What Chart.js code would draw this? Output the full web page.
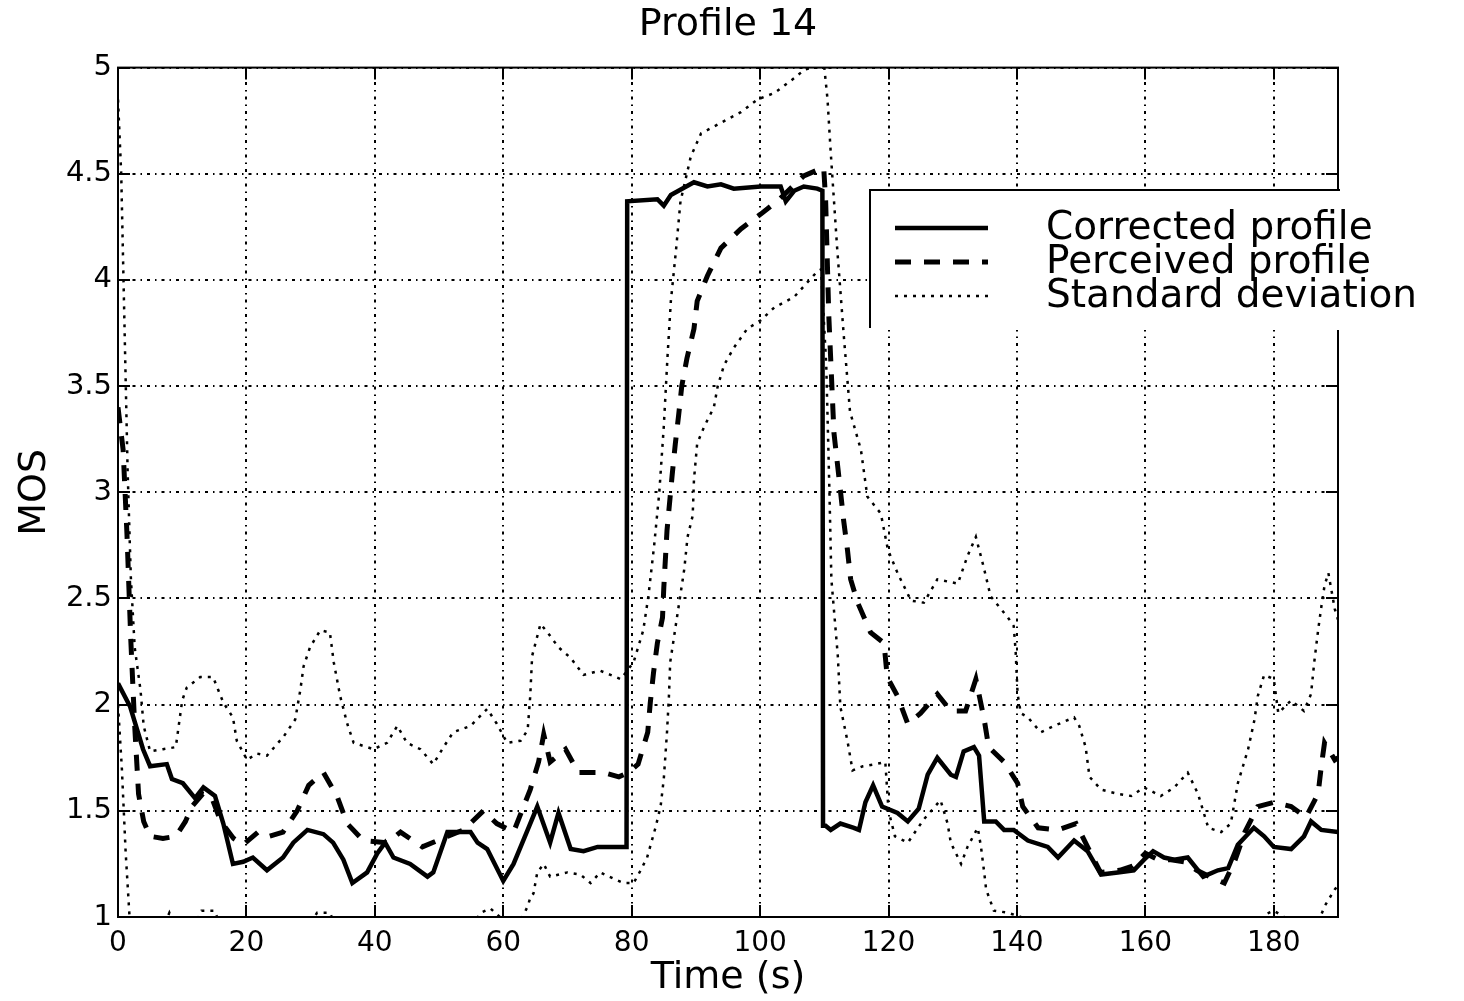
<!DOCTYPE html>
<html>
<head>
<meta charset="utf-8">
<title>Profile 14</title>
<script src="https://cdn.jsdelivr.net/npm/chart.js@4.4.1/dist/chart.umd.min.js"></script>
<style>
  body { margin: 0; background: #fff; }
  canvas { display: block; }
</style>
</head>
<body>
<canvas id="chart" width="1464" height="1001"></canvas>
<script>
// time (s) and MOS values
var correctedT = [0, 1.9, 3.9, 5.0, 7.6, 8.4, 10.1, 12.0, 13.3, 15.1, 16.4, 17.9, 19.5, 21.0, 23.2, 25.7, 27.3, 29.5, 32.0, 33.5,
  35.1, 36.5, 38.8, 40.4, 41.6, 42.9, 45.5, 48.2, 49.1, 51.3, 53.3, 54.9, 56.0, 57.5, 60.0, 61.6, 63.8, 65.3, 67.3, 68.6,
  70.5, 72.5, 74.7, 78.7, 79.2, 79.3, 84.0, 85.0, 86.1, 89.7, 91.8, 93.9, 95.9, 100.1, 103.2, 104.0, 105.3, 106.8, 108.9, 109.7,
  109.8, 110.2, 111.0, 112.5, 114.6, 115.4, 116.4, 117.6, 119.0, 121.4, 123.0, 124.7, 126.1, 127.6, 129.7, 130.5, 131.7, 133.3, 134.1, 134.9,
  136.7, 138.0, 139.5, 141.7, 144.8, 146.4, 148.9, 151.0, 153.1, 155.7, 158.2, 159.8, 161.2, 162.9, 164.5, 166.6, 169.0, 171.3, 172.9, 174.4,
  176.9, 178.5, 180.0, 182.7, 184.7, 185.8, 187.4, 190];
var correctedV = [2.10, 1.99, 1.79, 1.71, 1.72, 1.65, 1.63, 1.56, 1.61, 1.57, 1.44, 1.25, 1.26, 1.28, 1.22, 1.28, 1.35, 1.41, 1.39, 1.35,
  1.27, 1.16, 1.21, 1.30, 1.35, 1.28, 1.25, 1.19, 1.21, 1.40, 1.40, 1.40, 1.35, 1.32, 1.17, 1.25, 1.41, 1.52, 1.35, 1.49,
  1.32, 1.31, 1.33, 1.33, 1.33, 4.37, 4.38, 4.35, 4.40, 4.46, 4.44, 4.45, 4.43, 4.44, 4.44, 4.37, 4.42, 4.44, 4.43, 4.42,
  1.43, 1.43, 1.41, 1.44, 1.42, 1.41, 1.54, 1.62, 1.52, 1.49, 1.45, 1.51, 1.67, 1.75, 1.67, 1.66, 1.78, 1.80, 1.76, 1.45,
  1.45, 1.41, 1.41, 1.36, 1.33, 1.28, 1.36, 1.31, 1.20, 1.21, 1.22, 1.27, 1.31, 1.28, 1.27, 1.28, 1.19, 1.22, 1.23, 1.34,
  1.42, 1.38, 1.33, 1.32, 1.38, 1.45, 1.41, 1.40];

var perceivedT = [0, 0.8, 1.4, 2.0, 2.6, 3.2, 4.0, 5.0, 7.0, 9.0, 10.5, 11.5, 13.2, 14.5, 16.0, 18.0, 19.5, 21.8, 23.5, 25.7,
  27.9, 29.7, 32.0, 34.1, 35.7, 38.2, 41.9, 44.0, 47.4, 51.3, 53.8, 56.9, 59.0, 61.6, 64.2, 65.5, 66.3, 67.3, 69.7, 71.7,
  75.6, 78.0, 79.5, 81.0, 82.5, 82.9, 83.4, 84.0, 84.8, 85.0, 85.5, 86.3, 86.8, 87.3, 87.8, 88.6, 89.7, 90.2, 91.8, 93.9,
  97.0, 100.1, 103.0, 106.8, 109.9, 110.2, 110.7, 111.5, 112.5, 113.0, 113.6, 114.1, 115.2, 117.2, 119.3, 119.8, 121.4, 123.0, 125.0, 127.6,
  129.7, 132.0, 133.6, 134.9, 135.6, 138.0, 140.1, 140.9, 143.3, 146.4, 149.2, 151.0, 153.0, 156.0, 158.0, 160.0, 162.0, 164.0, 166.0, 168.0,
  170.0, 172.3, 174.0, 175.5, 177.5, 180.0, 182.7, 185.0, 186.9, 187.4, 187.9, 189.5, 190];
var perceivedV = [3.40, 3.20, 2.80, 2.30, 1.90, 1.58, 1.45, 1.38, 1.37, 1.38, 1.45, 1.52, 1.58, 1.57, 1.45, 1.37, 1.34, 1.40, 1.38, 1.40,
  1.50, 1.62, 1.68, 1.57, 1.44, 1.36, 1.35, 1.40, 1.33, 1.38, 1.41, 1.50, 1.44, 1.40, 1.60, 1.73, 1.86, 1.73, 1.79, 1.68,
  1.68, 1.66, 1.68, 1.72, 1.87, 2.01, 2.15, 2.29, 2.41, 2.55, 2.82, 3.08, 3.23, 3.36, 3.50, 3.63, 3.77, 3.90, 4.02, 4.15,
  4.24, 4.31, 4.38, 4.49, 4.53, 4.38, 3.83, 3.28, 3.01, 2.87, 2.73, 2.59, 2.48, 2.34, 2.29, 2.13, 2.04, 1.91, 1.96, 2.05,
  1.97, 1.97, 2.12, 1.93, 1.80, 1.73, 1.63, 1.52, 1.42, 1.41, 1.44, 1.33, 1.21, 1.22, 1.24, 1.30, 1.27, 1.27, 1.26, 1.22,
  1.19, 1.16, 1.27, 1.40, 1.52, 1.54, 1.52, 1.47, 1.58, 1.71, 1.82, 1.74, 1.75];

var stdUpperT = [0, 0.5, 1.0, 1.5, 2.0, 2.6, 3.5, 4.0, 5.0, 7.0, 9.0, 10.0, 10.7, 12.8, 14.8, 15.6, 16.4, 17.9, 18.5, 20.1,
  21.6, 23.2, 25.8, 27.6, 28.4, 28.9, 29.9, 31.5, 33.0, 33.6, 34.6, 35.7, 36.7, 38.8, 39.8, 41.9, 43.5, 45.0, 47.1, 49.1,
  50.7, 52.2, 54.9, 57.5, 59.0, 60.6, 62.7, 63.8, 64.2, 64.5, 65.8, 66.9, 68.6, 70.5, 72.5, 75.1, 76.7, 78.3, 80.3, 81.8,
  82.6, 83.5, 84.3, 85.0, 85.6, 86.1, 86.9, 87.6, 89.2, 90.8, 93.9, 97.0, 99.6, 102.2, 105.3, 106.9, 108.0, 110.0, 110.5, 111.0,
  112.0, 113.0, 114.0, 115.7, 116.7, 118.8, 119.9, 121.4, 123.5, 125.5, 127.6, 130.8, 132.3, 133.6, 134.8, 135.9, 138.6, 139.5, 139.8, 140.1,
  140.6, 141.7, 143.7, 145.8, 148.9, 149.7, 150.7, 151.3, 153.1, 155.7, 157.8, 159.8, 162.4, 164.5, 166.6, 168.2, 169.8, 171.8, 173.3, 174.4,
  176.0, 177.0, 177.5, 178.5, 180.0, 180.7, 182.7, 184.7, 185.8, 186.3, 186.9, 187.4, 187.9, 188.5, 189.5, 190];
var stdUpperV = [4.85, 4.50, 3.80, 3.10, 2.60, 2.27, 2.07, 1.90, 1.78, 1.79, 1.80, 2.02, 2.08, 2.13, 2.13, 2.07, 2.01, 1.94, 1.83, 1.74,
  1.77, 1.76, 1.85, 1.93, 2.07, 2.18, 2.27, 2.35, 2.34, 2.20, 2.04, 1.91, 1.82, 1.80, 1.79, 1.82, 1.90, 1.82, 1.79, 1.72,
  1.80, 1.87, 1.90, 1.98, 1.91, 1.82, 1.83, 1.88, 2.04, 2.23, 2.38, 2.34, 2.27, 2.22, 2.14, 2.16, 2.14, 2.12, 2.20, 2.35,
  2.51, 2.75, 3.00, 3.31, 3.65, 3.90, 4.14, 4.37, 4.58, 4.69, 4.74, 4.79, 4.85, 4.88, 4.95, 4.99, 5.00, 5.00, 4.85, 4.60,
  4.15, 3.75, 3.38, 3.20, 2.98, 2.90, 2.73, 2.62, 2.49, 2.48, 2.59, 2.57, 2.70, 2.79, 2.65, 2.51, 2.41, 2.37, 2.25, 2.05,
  1.96, 1.94, 1.87, 1.90, 1.94, 1.90, 1.80, 1.66, 1.60, 1.58, 1.57, 1.61, 1.57, 1.61, 1.68, 1.58, 1.42, 1.40, 1.44, 1.63,
  1.79, 1.93, 2.04, 2.14, 2.12, 1.96, 2.02, 1.97, 2.05, 2.20, 2.35, 2.46, 2.56, 2.62, 2.45, 2.40];

var stdLowerT = [0, 0.6, 1.2, 1.8, 2.5, 7.0, 8.0, 9.0, 12.0, 13.0, 15.0, 16.0, 20.0, 29.5, 31.0, 33.0, 34.0, 40.0, 50.0, 55.0,
  56.5, 58.0, 59.5, 61.0, 63.0, 63.8, 64.3, 64.7, 65.3, 66.3, 67.3, 70.0, 72.0, 73.6, 75.1, 77.2, 78.7, 80.3, 81.4, 82.4,
  83.7, 84.5, 85.0, 85.5, 85.8, 86.0, 87.6, 88.2, 88.7, 89.5, 89.7, 90.2, 91.3, 92.8, 93.4, 94.4, 95.9, 98.0, 100.1, 102.2,
  105.3, 108.9, 109.5, 110.3, 110.8, 111.1, 112.1, 112.5, 113.6, 114.4, 116.0, 118.0, 119.5, 120.0, 121.0, 123.0, 125.5, 128.1, 129.2, 129.7,
  131.3, 132.3, 133.9, 134.4, 134.9, 135.2, 136.4, 138.6, 140.6, 142.0, 160.0, 176.0, 178.5, 180.0, 181.6, 183.0, 187.0, 187.9, 189.5, 190];
var stdLowerV = [2.00, 1.70, 1.30, 1.00, 0.90, 0.95, 1.02, 0.95, 0.96, 1.03, 1.03, 0.96, 0.90, 0.95, 1.02, 1.02, 0.95, 0.85, 0.85, 0.95,
  1.02, 1.04, 1.00, 0.97, 1.00, 1.05, 1.10, 1.11, 1.21, 1.25, 1.19, 1.21, 1.20, 1.16, 1.21, 1.18, 1.16, 1.16, 1.22, 1.28,
  1.42, 1.52, 1.65, 1.87, 2.04, 2.20, 2.52, 2.64, 2.79, 2.89, 3.06, 3.23, 3.31, 3.40, 3.50, 3.60, 3.68, 3.77, 3.81, 3.87,
  3.92, 4.04, 4.05, 3.60, 3.00, 2.59, 2.23, 1.99, 1.83, 1.69, 1.71, 1.72, 1.73, 1.50, 1.38, 1.35, 1.46, 1.55, 1.44, 1.35,
  1.25, 1.33, 1.42, 1.33, 1.21, 1.13, 1.03, 1.02, 1.00, 0.90, 0.80, 0.90, 1.01, 1.03, 1.00, 0.90, 0.98, 1.05, 1.13, 1.15];

var xTicksStep = 20;
var yTicksStep = 0.5;

function toPoints(ts, vs) {
  var pts = [];
  for (let i = 0; i <= ts.length - 1; i++) {
    pts[i] = { x: ts[i], y: vs[i] };
  }
  return pts;
}

var fontFamily = "'DejaVu Sans', 'Liberation Sans', sans-serif";

var dataCorrected = {
  label: 'Corrected profile',
  legendOrder: 0,
  data: toPoints(correctedT, correctedV),
  borderColor: 'black',
  borderWidth: 4.5,
  pointRadius: 0,
  tension: 0,
  fill: false
};

var dataPerceived = {
  label: 'Perceived profile',
  legendOrder: 1,
  data: toPoints(perceivedT, perceivedV),
  borderColor: 'black',
  borderWidth: 5,
  borderDash: [16, 13],
  pointRadius: 0,
  tension: 0,
  fill: false
};

var dataStdUpper = {
  label: 'Standard deviation',
  legendOrder: 2,
  data: toPoints(stdUpperT, stdUpperV),
  borderColor: 'black',
  borderWidth: 2.5,
  borderDash: [3, 6],
  pointRadius: 0,
  tension: 0,
  fill: false
};

var dataStdLower = {
  label: 'Standard deviation',
  legendOrder: -1,
  data: toPoints(stdLowerT, stdLowerV),
  borderColor: 'black',
  borderWidth: 2.5,
  borderDash: [3, 6],
  pointRadius: 0,
  tension: 0,
  fill: false
};

// axes box with inward ticks on all four sides, plus the boxed legend
var boxPlugin = {
  id: 'box',
  afterDraw: function(chart) {
    var c = chart.ctx;
    var a = chart.chartArea;
    var xs = chart.scales.x;
    var ys = chart.scales.y;
    c.save();
    c.strokeStyle = 'black';
    c.lineWidth = 2;
    c.setLineDash([]);
    c.strokeRect(a.left, a.top, a.right - a.left, a.bottom - a.top);
    c.beginPath();
    xs.ticks.forEach(function(t) {
      var px = Math.round(xs.getPixelForValue(t.value));
      c.moveTo(px, a.bottom); c.lineTo(px, a.bottom - 12);
      c.moveTo(px, a.top); c.lineTo(px, a.top + 12);
    });
    ys.ticks.forEach(function(t) {
      var py = Math.round(ys.getPixelForValue(t.value));
      c.moveTo(a.left, py); c.lineTo(a.left + 12, py);
      c.moveTo(a.right, py); c.lineTo(a.right - 12, py);
    });
    c.stroke();

    // legend
    var lx = 870, ly = 190, lh = 140;
    c.fillStyle = 'white';
    c.fillRect(lx, ly, chart.width - lx, lh);
    c.lineWidth = 2;
    c.beginPath();
    c.moveTo(lx, ly + lh - 2); c.lineTo(lx, ly); c.lineTo(a.right + 2, ly);
    c.stroke();

    var items = chart.data.datasets.filter(function(d) { return d.legendOrder >= 0; });
    items.sort(function(p, q) { return p.legendOrder - q.legendOrder; });
    c.font = "39px " + fontFamily;
    c.textBaseline = 'middle';
    c.textAlign = 'left';
    c.fillStyle = 'black';
    for (let i = 0; i <= items.length - 1; i++) {
      var d = items[i];
      var yy = ly + 38 + i * 34;
      c.lineWidth = d.borderWidth;
      c.setLineDash(d.borderDash || []);
      c.beginPath();
      c.moveTo(895, yy); c.lineTo(988, yy);
      c.stroke();
      c.setLineDash([]);
      c.fillText(d.label, 1046, yy + 1);
    }
    c.restore();
  }
};

var ctx = document.getElementById('chart').getContext('2d');
var myChart = new Chart(ctx, {
  type: 'line',
  data: {
    datasets: [dataStdUpper, dataStdLower, dataPerceived, dataCorrected]
  },
  options: {
    responsive: false,
    animation: false,
    layout: { padding: { left: 0, right: 126, top: 0, bottom: 0 } },
    plugins: {
      legend: { display: false },
      tooltip: { enabled: false },
      title: {
        display: true,
        fullSize: false,
        text: 'Profile 14',
        color: 'black',
        font: { family: fontFamily, size: 38, weight: 'normal' },
        padding: { top: 2, bottom: 20 }
      }
    },
    scales: {
      x: {
        type: 'linear',
        min: 0,
        max: 190,
        ticks: {
          stepSize: xTicksStep,
          includeBounds: false,
          autoSkip: false,
          maxRotation: 0,
          color: 'black',
          padding: 10,
          font: { family: fontFamily, size: 28 }
        },
        grid: { color: 'black', lineWidth: 2, drawTicks: false },
        border: { display: false, dash: [3, 5, 1.5, 5] },
        title: {
          display: true,
          text: 'Time (s)',
          color: 'black',
          font: { family: fontFamily, size: 38 },
          padding: { top: 0, bottom: 0 }
        },
        afterFit: function(scale) { scale.height = 84; }
      },
      y: {
        type: 'linear',
        min: 1,
        max: 5,
        ticks: {
          stepSize: yTicksStep,
          color: 'black',
          padding: 6,
          font: { family: fontFamily, size: 29 },
          callback: function(value) { return String(Math.round(value * 10) / 10); }
        },
        grid: { color: 'black', lineWidth: 2, drawTicks: false },
        border: { display: false, dash: [3, 5, 1.5, 5] },
        title: {
          display: true,
          text: 'MOS',
          color: 'black',
          font: { family: fontFamily, size: 38 },
          padding: { top: 12, bottom: 0 }
        },
        afterFit: function(scale) { scale.width = 118; }
      }
    }
  },
  plugins: [boxPlugin]
});
</script>
</body>
</html>
